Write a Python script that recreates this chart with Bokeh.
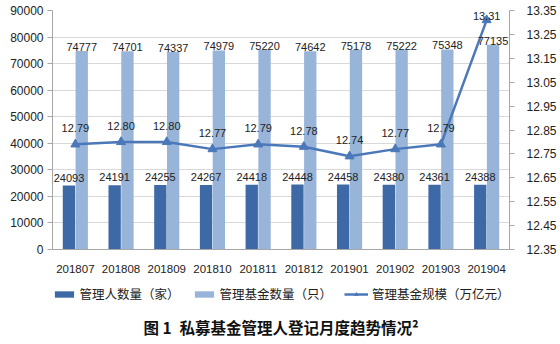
from bokeh.plotting import figure
from bokeh.layouts import column
from bokeh.models import (ColumnDataSource, Range1d, LinearAxis, FixedTicker, NumeralTickFormatter,
                          Legend, LegendItem, Label, FactorRange)
from bokeh.transform import dodge
from bokeh.core.properties import value
from bokeh.embed import file_html
from bokeh.resources import INLINE

months = ["201807", "201808", "201809", "201810", "201811", "201812", "201901", "201902", "201903", "201904"]
managers = [24093, 24191, 24255, 24267, 24418, 24448, 24458, 24380, 24361, 24388]
funds = [74777, 74701, 74337, 74979, 75220, 74642, 75178, 75222, 75348, 77135]
scale = [12.79, 12.80, 12.80, 12.77, 12.79, 12.78, 12.74, 12.77, 12.79, 13.31]
left_ticks = [0, 10000, 20000, 30000, 40000, 50000, 60000, 70000, 80000, 90000]
right_ticks = [12.35, 12.45, 12.55, 12.65, 12.75, 12.85, 12.95, 13.05, 13.15, 13.25, 13.35]
legend_labels = ["管理人数量（家）", "管理基金数量（只）", "管理基金规模（万亿元）"]
title_text = "图 1\u2002私募基金管理人登记月度趋势情况²"

R_LO, R_HI = 12.35, 13.35
FRAME_H = 239
px = (R_HI - R_LO) / FRAME_H
# line labels sit ~16px above the point, but stay inside the plot frame
scale_label_y = [min(v + 16 * px, R_HI - 5 * px) for v in scale]

src = ColumnDataSource(dict(
    m=months, managers=managers, funds=funds, scale=scale, scale_ly=scale_label_y,
    managers_t=[str(v) for v in managers],
    funds_t=[str(v) for v in funds],
    scale_t=["%.2f" % v for v in scale],
))

NUM_FONT = "Liberation Sans"
CJK_FONT = "Noto Sans CJK SC"
TXT = "#222222"

dark = "#3d6aa6"
light = "#98b5d9"
line_c = "#4a78b8"

p = figure(width=560, height=280, x_range=FactorRange(*months), y_range=Range1d(0, 90000),
           output_backend="svg", toolbar_location=None,
           min_border_left=52, min_border_right=51, min_border_top=10, min_border_bottom=31)
p.extra_y_ranges = {"r": Range1d(R_LO, R_HI)}
p.outline_line_color = None
p.background_fill_color = "white"
p.border_fill_color = "white"

p.vbar(x=dodge("m", -0.14, range=p.x_range), top="managers", width=0.27, source=src,
       fill_color=dark, line_color=None)
p.vbar(x=dodge("m", 0.14, range=p.x_range), top="funds", width=0.27, source=src,
       fill_color=light, line_color=None)
p.line(x="m", y="scale", source=src, y_range_name="r", line_color=line_c, line_width=2.5)
p.scatter(x="m", y="scale", source=src, y_range_name="r", marker="triangle", size=9,
          fill_color=line_c, line_color=line_c)

p.text(x=dodge("m", -0.14, range=p.x_range), y="managers", text="managers_t", source=src,
       text_align="center", text_baseline="bottom", y_offset=-4, text_font=value(NUM_FONT),
       text_font_size="11px", text_color=TXT)
p.text(x=dodge("m", 0.14, range=p.x_range), y="funds", text="funds_t", source=src,
       text_align="center", text_baseline="bottom", y_offset=0, text_font=value(NUM_FONT),
       text_font_size="11px", text_color=TXT)
p.text(x="m", y="scale_ly", text="scale_t", source=src, y_range_name="r",
       text_align="center", text_baseline="middle", text_font=value(NUM_FONT),
       text_font_size="11px", text_color=TXT)

ya = p.yaxis[0]
ya.ticker = FixedTicker(ticks=left_ticks)
ya.formatter = NumeralTickFormatter(format="0")
ra = LinearAxis(y_range_name="r", ticker=FixedTicker(ticks=right_ticks),
                formatter=NumeralTickFormatter(format="0.00"))
p.add_layout(ra, "right")
for ax in (ya, ra):
    ax.axis_line_color = "#a6a6a6"
    ax.major_tick_line_color = "#a6a6a6"
    ax.major_tick_out = 5
    ax.major_tick_in = 0
    ax.minor_tick_line_color = None
    ax.major_label_text_font = NUM_FONT
    ax.major_label_text_font_size = "12px"
    ax.major_label_text_color = TXT
ya.major_label_standoff = 4
ra.major_label_standoff = 12

xa = p.xaxis[0]
xa.axis_line_color = "#a6a6a6"
xa.major_tick_line_color = None
xa.minor_tick_line_color = None
xa.major_label_text_font = NUM_FONT
xa.major_label_text_font_size = "11.5px"
xa.major_label_text_color = TXT
xa.major_label_standoff = 9

p.xgrid.grid_line_color = None
p.ygrid.grid_line_color = "#d9d9d9"
p.ygrid.ticker = FixedTicker(ticks=left_ticks)

# legend + caption panel
q = figure(width=560, height=64, x_range=Range1d(0, 1), y_range=Range1d(0, 64),
           output_backend="svg", toolbar_location=None,
           min_border=0, outline_line_color=None)
q.axis.visible = False
q.grid.visible = False
q.background_fill_color = "white"
q.border_fill_color = "white"
# legend swatches only: a single sample placed outside the visible range
swatch = ColumnDataSource(dict(x=[-5.0], y=[-5.0], top=[-5.0]))
g1 = q.vbar(x="x", top="top", width=0.1, source=swatch, fill_color=dark, line_color=None)
g2 = q.vbar(x="x", top="top", width=0.1, source=swatch, fill_color=light, line_color=None)
g3 = q.line(x="x", y="y", source=swatch, line_color=line_c, line_width=2.5)
g4 = q.scatter(x="x", y="y", source=swatch, marker="triangle", size=9, fill_color=line_c, line_color=line_c)

legend = Legend(items=[
    LegendItem(label=legend_labels[0], renderers=[g1], index=0),
    LegendItem(label=legend_labels[1], renderers=[g2], index=0),
    LegendItem(label=legend_labels[2], renderers=[g3, g4], index=0),
], orientation="horizontal", location="top_center")
legend.label_text_font = CJK_FONT
legend.label_text_font_size = "12.5px"
legend.label_text_color = TXT
legend.glyph_width = 24
legend.glyph_height = 8
legend.label_height = 18
legend.spacing = 12
legend.label_standoff = 4
legend.border_line_color = None
legend.background_fill_alpha = 0
legend.margin = 4
legend.padding = 2
q.add_layout(legend)

q.add_layout(Label(x=0.5, y=18, text=title_text, text_align="center", text_baseline="middle",
                   text_font=CJK_FONT, text_font_size="15.5px", text_font_style="bold",
                   text_color="#111111"))

layout = column(p, q, spacing=0)
open("out.html", "w").write(file_html(layout, INLINE))
